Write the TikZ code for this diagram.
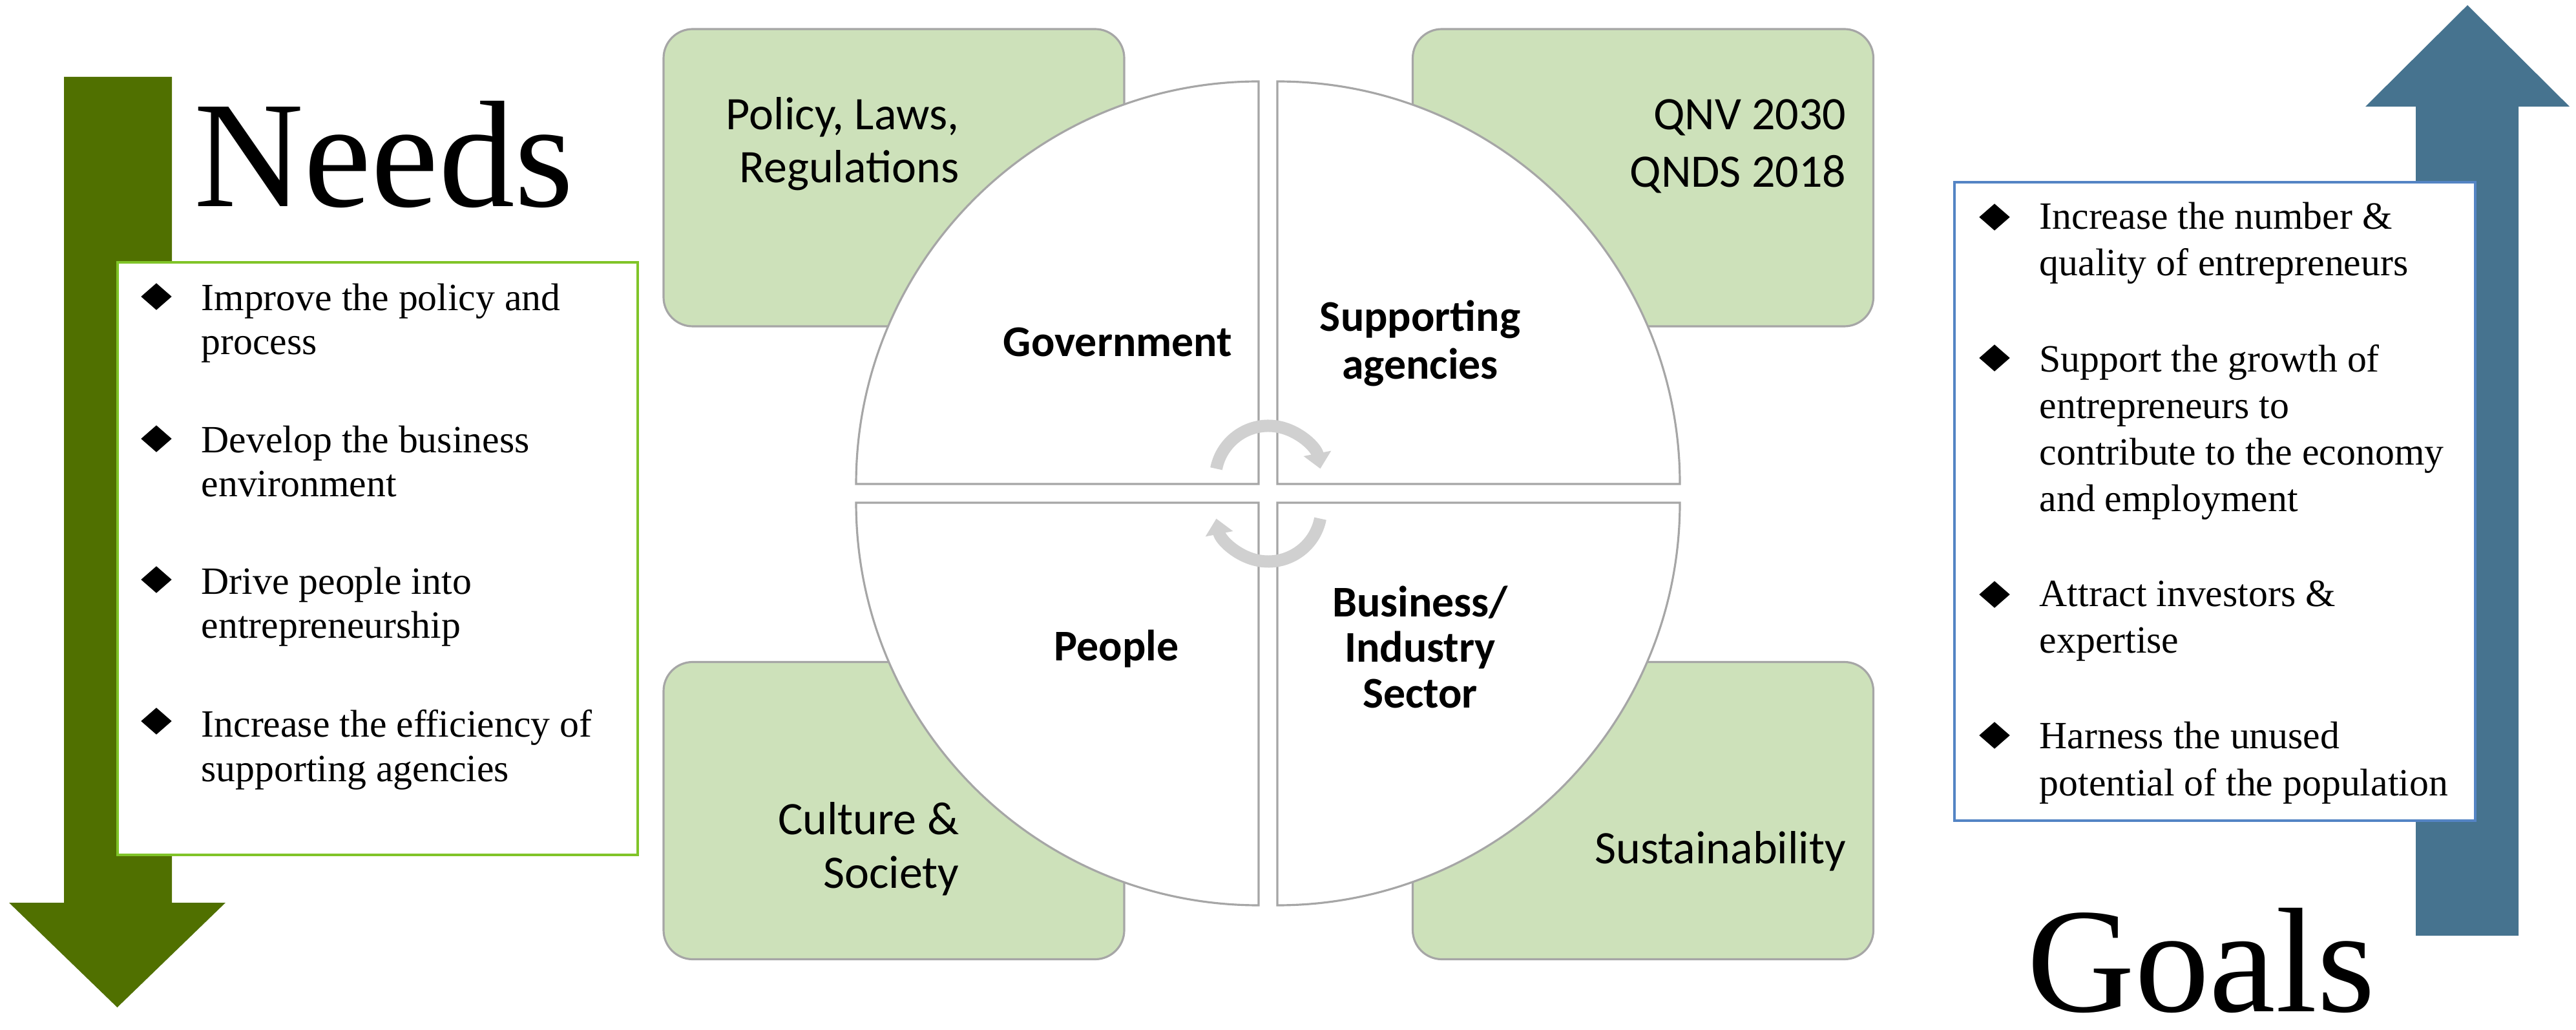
\documentclass[tikz,border=0pt]{standalone}
\usepackage{fontspec}
\setmainfont{Liberation Serif}
\newfontfamily\calibri{Carlito}
\usepackage{tikz}
\usetikzlibrary{arrows.meta,positioning,shapes.geometric}
\definecolor{needgreen}{RGB}{80,112,0}
\definecolor{needline}{RGB}{128,196,40}
\definecolor{goalblue}{RGB}{70,115,143}
\definecolor{goalline}{RGB}{84,132,196}
\definecolor{ctxgreen}{RGB}{205,225,186}
\definecolor{ctxgray}{RGB}{166,166,166}
\definecolor{spingray}{RGB}{208,208,208}

\begin{document}
\begin{tikzpicture}[
  ctxbox/.style={rectangle, rounded corners=0.45cm, draw=ctxgray, fill=ctxgreen, line width=0.9pt, minimum width=7.13cm, minimum height=4.6cm, inner sep=0pt},
  ctxtext/.style={font=\calibri\fontsize{20.5}{23.5}\selectfont, align=right, anchor=base east, inner sep=0pt},
  sector/.style={draw=ctxgray, fill=white, line width=0.9pt},
  sectortext/.style={font=\calibri\bfseries\fontsize{19.3}{21.3}\selectfont, align=center, anchor=base, inner sep=0pt},
  bullet/.style={diamond, fill=black, minimum width=0.48cm, minimum height=0.42cm, inner sep=0pt},
  needitem/.style={font=\fontsize{17}{19.5}\selectfont, align=left, anchor=base west, inner sep=0pt},
  goalitem/.style={font=\fontsize{17}{20.5}\selectfont, align=left, anchor=base west, inner sep=0pt},
  spinarrow/.style={spingray, line width=0.19cm, -{Triangle[width=0.42cm,length=0.24cm]}}
]
  \useasboundingbox (0,0) rectangle (39.87,15.93);

  % Needs arrow (down) and Goals arrow (up)
  \fill[needgreen] (0.99,14.74) -- (2.66,14.74) -- (2.66,1.96) -- (3.49,1.96) -- (1.815,0.34) -- (0.14,1.96) -- (0.99,1.96) -- cycle;
  \fill[goalblue] (37.39,1.45) -- (38.98,1.45) -- (38.98,14.28) -- (39.77,14.28) -- (38.19,15.85) -- (36.61,14.28) -- (37.39,14.28) -- cycle;

  % Headings
  \node[font=\fontsize{66.9}{70}\selectfont, anchor=base west, inner sep=0pt] (needs) at (3.00,12.73) {Needs};
  \node[font=\fontsize{65.7}{70}\selectfont, anchor=base west, inner sep=0pt, text depth=0pt] (goals) at (31.37,0.28) {Goals};

  % Needs list (anchors sit on the last line)
  \node[draw=needline, fill=white, line width=1.1pt, minimum width=8.05cm, minimum height=9.17cm] (needbox) at (5.845,7.285) {};
  \node[bullet] (b1) at (2.42,11.34) {};
  \node[needitem] (need1) at (3.11,10.44) {Improve the policy and\\process};
  \node[bullet] (b2) at (2.42,9.14) {};
  \node[needitem] (need2) at (3.11,8.24) {Develop the business\\environment};
  \node[bullet] (b3) at (2.42,6.96) {};
  \node[needitem] (need3) at (3.11,6.05) {Drive people into\\entrepreneurship};
  \node[bullet] (b4) at (2.42,4.77) {};
  \node[needitem] (need4) at (3.11,3.84) {Increase the efficiency of\\supporting agencies};

  % Goals list
  \node[draw=goalline, fill=white, line width=1.1pt, minimum width=8.06cm, minimum height=9.88cm] (goalbox) at (34.28,8.17) {};
  \node[bullet] (g1) at (30.87,12.57) {};
  \node[goalitem] (goal1) at (31.56,11.66) {Increase the number \&\\quality of entrepreneurs};
  \node[bullet] (g2) at (30.87,10.39) {};
  \node[goalitem] (goal2) at (31.56,8.01) {Support the growth of\\entrepreneurs to\\contribute to the economy\\and employment};
  \node[bullet] (g3) at (30.87,6.73) {};
  \node[goalitem] (goal3) at (31.56,5.82) {Attract investors \&\\expertise};
  \node[bullet] (g4) at (30.87,4.55) {};
  \node[goalitem] (goal4) at (31.56,3.62) {Harness the unused\\potential of the population};

  % Context boxes
  \node[ctxbox] (policybox) at (13.835,13.18) {};
  \node[ctxbox] (visionbox) at (25.43,13.18) {};
  \node[ctxbox] (culturebox) at (13.835,3.385) {};
  \node[ctxbox] (sustainbox) at (25.43,3.385) {};
  \node[ctxtext] (policy) at (14.85,13.10) {Policy, Laws,\\Regulations};
  \node[ctxtext, font=\calibri\fontsize{20.5}{25.5}\selectfont] (vision) at (28.58,13.03) {QNV 2030\\QNDS 2018};
  \node[ctxtext] (culture) at (14.85,2.19) {Culture \&\\Society};
  \node[ctxtext] (sustain) at (28.58,2.57) {Sustainability};

  % Four quarters
  \draw[sector] (19.48,8.44) -- (13.25,8.44) arc[start angle=180, end angle=90, radius=6.23] -- cycle;
  \draw[sector] (19.77,8.44) -- (19.77,14.67) arc[start angle=90, end angle=0, radius=6.23] -- cycle;
  \draw[sector] (19.48,8.15) -- (19.48,1.92) arc[start angle=270, end angle=180, radius=6.23] -- cycle;
  \draw[sector] (19.77,8.15) -- (26.00,8.15) arc[start angle=0, end angle=-90, radius=6.23] -- cycle;

  % Cycle arrows
  \coordinate (spintop) at (19.63,8.52);
  \coordinate (spinbot) at (19.63,8.06);
  \draw[spinarrow] (spintop) ++(169:0.82) arc[start angle=169, end angle=11, radius=0.82];
  \draw[spinarrow] (spinbot) ++(-11:0.82) arc[start angle=-11, end angle=-169, radius=0.82];

  \node[sectortext] (gov) at (17.30,10.41) {Government};
  \node[sectortext] (agencies) at (21.98,10.06) {Supporting\\agencies};
  \node[sectortext] (people) at (17.28,5.71) {People};
  \node[sectortext, font=\calibri\bfseries\fontsize{19.3}{20}\selectfont] (business) at (21.98,4.98) {Business/\\Industry\\Sector};
\end{tikzpicture}
\end{document}
